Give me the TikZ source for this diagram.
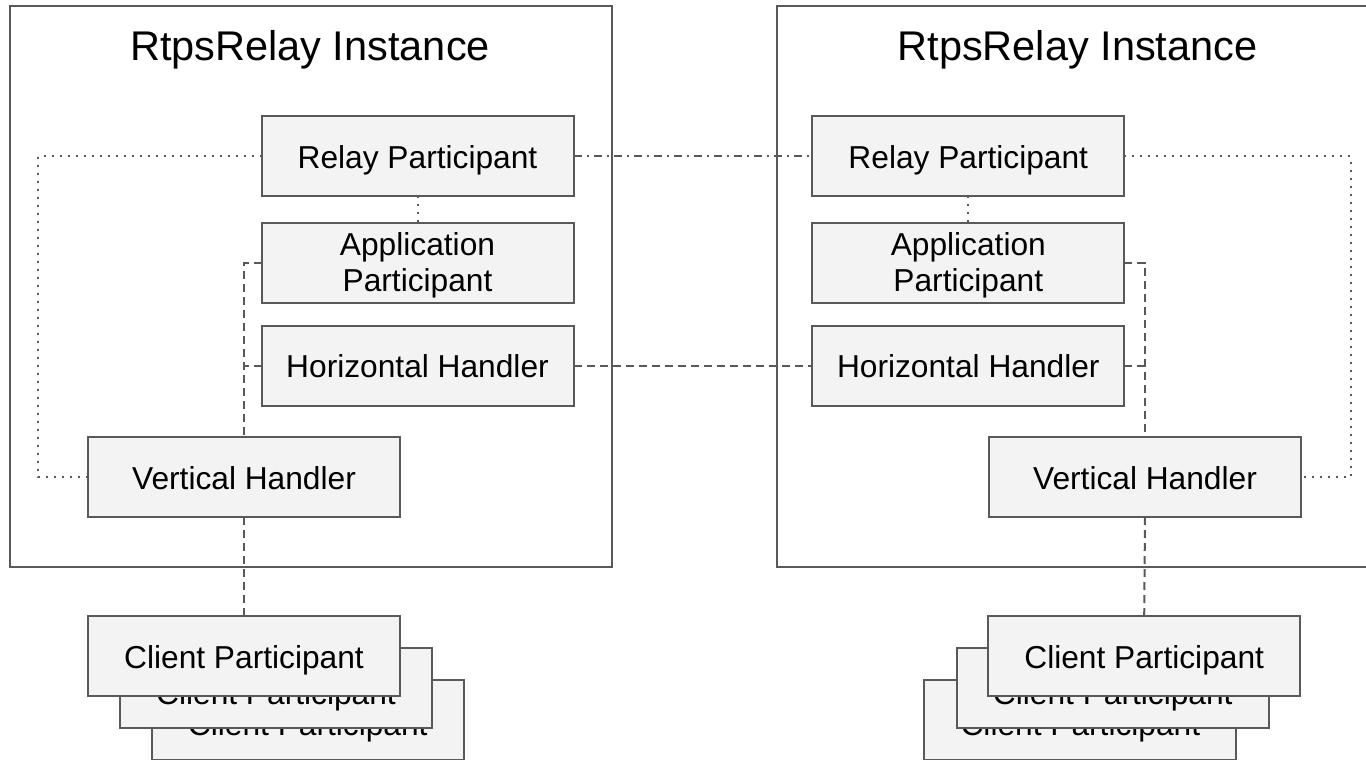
\documentclass[tikz,border=0pt]{standalone}
\usepackage{fontspec}
\setmainfont{Liberation Sans}
\begin{document}
\begin{tikzpicture}[x=1pt,y=-1pt,
  every node/.style={inner sep=0pt, outer sep=0pt},
  blk/.style={draw=ln, line width=2pt, fill=boxfill, minimum width=312pt, minimum height=80pt,
    text height=24pt, text depth=0pt, font=\fontsize{31.7}{36.5}\selectfont},
  backblk/.style={blk, text height=32pt},
  twoline/.style={blk, text height=0pt},
  inst/.style={draw=ln, line width=2pt},
  title/.style={anchor=base, font=\fontsize{41.5}{48}\selectfont},
  dashln/.style={draw=ln, line width=2pt, dash pattern=on 8pt off 5pt},
  dotln/.style={draw=ln, line width=2pt, dash pattern=on 2pt off 6pt},
  dashdotln/.style={draw=ln, line width=2pt, dash pattern=on 8pt off 5pt on 2pt off 5pt}]
\definecolor{ln}{HTML}{595959}
\definecolor{boxfill}{HTML}{F3F3F3}
% two centred lines around the node centre
\newcommand{\twolines}[2]{%
  \raisebox{7.5pt}[0pt][0pt]{\makebox[0pt][c]{#1}}%
  \raisebox{-29.2pt}[0pt][0pt]{\makebox[0pt][c]{#2}}}

\useasboundingbox (0,0) rectangle (1366,760);
\clip (0,0) rectangle (1366,760);
\fill[white] (0,0) rectangle (1366,760);

% relay instance frames
\draw[inst] (9.5,6.5) rectangle (611.5,567);
\draw[inst] (777.3,6.5) rectangle (1378,567);
\node[title] (T1) at (310,61) {RtpsRelay Instance};
\node[title] (T2) at (1077.5,61) {RtpsRelay Instance};

% left instance
\node[blk] (RP1) at (417.5,156.3) {Relay Participant};
\node[twoline] (AP1) at (417.5,262.5) {\twolines{Application}{Participant}};
\node[blk] (HH1) at (417.5,365.5) {Horizontal Handler};
\node[blk] (VH1) at (244,477) {Vertical Handler};

% left clients (stacked, back to front)
\node[backblk] (CP1c) at (307.8,719.5) {Client Participant};
\node[backblk] (CP1b) at (276,688) {Client Participant};
\node[blk] (CP1a) at (244,656.3) {Client Participant};

% right instance
\node[blk] (RP2) at (968.3,156.3) {Relay Participant};
\node[twoline] (AP2) at (968.3,262.5) {\twolines{Application}{Participant}};
\node[blk] (HH2) at (968.3,365.5) {Horizontal Handler};
\node[blk] (VH2) at (1145,477) {Vertical Handler};

% right clients (stacked, back to front)
\node[backblk] (CP2c) at (1080.4,719.5) {Client Participant};
\node[backblk] (CP2b) at (1112.8,688) {Client Participant};
\node[blk] (CP2a) at (1144.2,656.3) {Client Participant};

% loop coordinates for the dotted relay-to-vertical links
\coordinate (LL) at (38,0);
\coordinate (RL) at (1350.7,0);

% left links
\draw[dotln] (RP1.west) -- (RP1.west -| LL) -- (VH1.west -| LL) -- (VH1.west);
\draw[dotln] (RP1.south) -- (AP1.north);
\draw[dashln] (AP1.west) -| (VH1.north);
\draw[dashln] (HH1.west) -- (HH1.west -| VH1.north);
\draw[dashln] (VH1.south) -- (CP1a.north);

% links between instances
\draw[dashdotln] (RP1.east) -- (RP2.west);
\draw[dashln] (HH1.east) -- (HH2.west);

% right links
\draw[dotln] (RP2.east) -- (RP2.east -| RL) -- (VH2.east -| RL) -- (VH2.east);
\draw[dotln] (RP2.south) -- (AP2.north);
\draw[dashln] (AP2.east) -| (VH2.north);
\draw[dashln] (HH2.east) -- (HH2.east -| VH2.north);
\draw[dashln] (VH2.south) -- (CP2a.north);
\end{tikzpicture}
\end{document}
